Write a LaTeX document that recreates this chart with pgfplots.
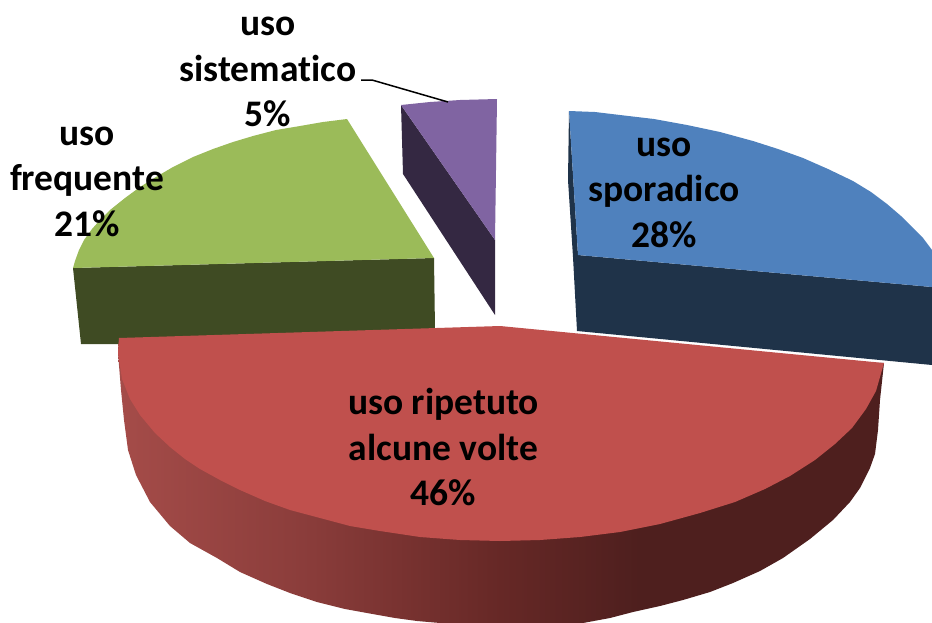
\documentclass[border=0pt]{standalone}
\usepackage{pgfplots}
\pgfplotsset{compat=1.18}
\usepackage{fontspec}
\setmainfont[Ligatures=NoCommon]{Carlito}
\definecolor{blueT}{HTML}{4F81BD}
\definecolor{blueS}{HTML}{1F3349}
\definecolor{redT}{HTML}{C0504D}
\definecolor{greenT}{HTML}{9BBB59}
\definecolor{greenS}{HTML}{3F4B23}
\definecolor{purpT}{HTML}{8064A2}
\definecolor{purpS}{HTML}{342842}
\definecolor{rsA}{HTML}{A54C49}
\definecolor{rsB}{HTML}{8B3D3B}
\definecolor{rsC}{HTML}{662826}
\definecolor{rsD}{HTML}{4E1F1E}
\pgfdeclarehorizontalshading{redside}{100bp}{
 color(0bp)=(rsA);
 color(25bp)=(rsA);
 color(37bp)=(rsB);
 color(50bp)=(rsC);
 color(59bp)=(rsD);
 color(100bp)=(rsD)}
\tikzset{lab/.style={font=\bfseries\fontsize{37.5}{45.5}\selectfont, align=center, text=black, inner sep=0pt}}
\begin{document}
\begin{tikzpicture}
\path[use as bounding box] (0,0) rectangle (932pt,622pt);
\begin{axis}[
  at={(0,0)}, anchor=south west,
  scale only axis, width=932pt, height=622pt,
  xmin=0, xmax=932, ymin=0, ymax=622, y dir=reverse,
  hide axis, enlargelimits=false, clip=true
]
% purple slice
\addplot[draw=none, fill=purpS] coordinates {(401,105)(495,240)(495,315)(403,174)};
\addplot[draw=none, fill=purpT] coordinates {(401,105)(430,102)(460,100)(497,99)(496,170)(495,240)};
% green slice
\addplot[draw=none, fill=greenS] coordinates {(73,268)(434,258)(435,330)(436,345)(81,344)};
\addplot[draw=none, fill=greenT] coordinates {(73,268)(75,261)(79,250)(84,240)(92,229)(100,220)(110,210)(125,198)(140,187)(156,177)(173,167)(193,157)(213,149)(233,142)(253,136)(276,130)(300,126)(323,122)(347,119)(434,258)};
% blue slice
\addplot[draw=none, fill=blueS] coordinates {(569,111)(568,180)(573,257)(577,331)(932,365)(932,287)(578,255)};
\addplot[draw=none, fill=blueT] coordinates {(569,111)(595,112)(620,115)(654,119)(687,125)(720,132)(753,141)(778,149)(803,158)(828,169)(853,181)(871,192)(887,204)(901,216)(913,228)(923,238)(932,250)(932,287)(578,255)};
% red slice side
\addplot[draw=none, shade, shading=redside] coordinates {(119,340)(118,353)(121,390)(124,420)(128,450)(136,475)(150,502)(170,526)(190,543)(217,558)(240,572)(267,584)(290,593)(317,602)(345,609)(367,613)(395,618)(417,621)(440,623)(583,623)(610,618)(633,612)(660,606)(683,600)(710,592)(733,583)(760,571)(783,558)(810,539)(833,520)(850,502)(860,488)(870,468)(875,454)(878,430)(880,400)(884,363)};
% red top
\addplot[draw=none, fill=redT] coordinates {(119,338)(500,326)(884,363)(876,391)(866,409)(852,428)(835,444)(815,460)(790,476)(765,489)(735,502)(700,513)(660,524)(620,532)(580,537)(540,540)(500,541)(460,540)(420,537)(380,531)(350,526)(320,518)(290,510)(265,501)(240,490)(220,480)(200,469)(185,459)(170,447)(155,433)(140,415)(130,399)(122,379)(118,353)};
% leader line
\addplot[black, line width=1.5pt] coordinates {(361,80)(372,80)(448,102)};
\node[lab] at (axis cs:268,72) {uso\\sistematico\\5\%};
\node[lab] at (axis cs:87,181.5) {uso\\frequente\\21\%};
\node[lab] at (axis cs:664,192.5) {uso\\sporadico\\28\%};
\node[lab] at (axis cs:443.5,447) {uso ripetuto\\alcune volte\\46\%};
\end{axis}
\end{tikzpicture}
\end{document}
